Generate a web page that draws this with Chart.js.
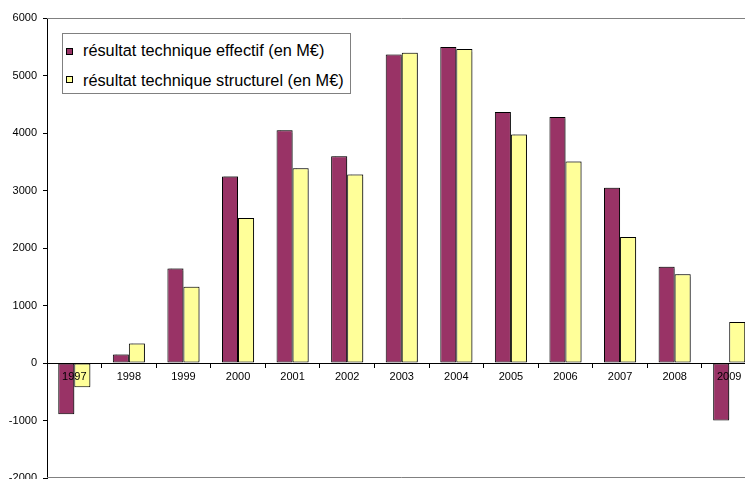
<!DOCTYPE html>
<html>
<head>
<meta charset="utf-8">
<script src="https://cdn.jsdelivr.net/npm/chart.js@4.4.1/dist/chart.umd.min.js"></script>
<style>
  html, body { margin: 0; padding: 0; background: #fff; }
  #wrap { position: relative; width: 745px; height: 479px; overflow: hidden; }
  #c { position: absolute; left: 0; top: 0; }
  #legend { position: absolute; left: 62px; top: 33px; width: 287px; height: 59px;
    border: 1px solid #808080; background: #fff; font-family: "Liberation Sans", Arial, sans-serif;
    font-size: 16.3px; color: #000; }
  .sw { position: absolute; left: 3px; width: 5px; height: 5px; border: 1px solid #000; }
  .txt { position: absolute; left: 20px; white-space: nowrap; line-height: 20px; height: 20px; }
</style>
</head>
<body>
<div id="wrap">
  <canvas id="c" width="770" height="495"></canvas>
  <div id="legend"></div>
</div>
<script>
const categories = ['1997','1998','1999','2000','2001','2002','2003','2004','2005','2006','2007','2008','2009'];
const effectif   = [-890, 150, 1645, 3245, 4050, 3595, 5365, 5495, 4365, 4280, 3050, 1675, -1000];
const structurel = [-420, 340, 1325, 2520, 3385, 3280, 5395, 5460, 3975, 3505, 2190, 1545, 715];
const seriesLabels = ['résultat technique effectif (en M€)', 'résultat technique structurel (en M€)'];
const seriesColors = ['#993366', '#FFFF99'];
const yMin = -2000, yMax = 6000, yStep = 1000;

const legend = document.getElementById('legend');
seriesLabels.forEach((lab, i) => {
  const sw = document.createElement('span');
  sw.className = 'sw';
  sw.style.background = seriesColors[i];
  sw.style.top = (i === 0 ? 14 : 42) + 'px';
  legend.appendChild(sw);
  const t = document.createElement('span');
  t.className = 'txt';
  t.style.top = (i === 0 ? 6 : 36) + 'px';
  t.textContent = lab;
  legend.appendChild(t);
});

const borderPlugin = {
  id: 'plotBorder',
  beforeDatasetsDraw(chart) {
    const {ctx, chartArea: a} = chart;
    ctx.save();
    ctx.strokeStyle = '#808080';
    ctx.lineWidth = 1;
    ctx.beginPath();
    ctx.moveTo(a.left, Math.round(a.top) + 0.5);
    ctx.lineTo(a.right, Math.round(a.top) + 0.5);
    ctx.moveTo(a.left, Math.round(a.bottom) - 0.5);
    ctx.lineTo(a.right, Math.round(a.bottom) - 0.5);
    ctx.moveTo(Math.round(a.right) - 0.5, a.top);
    ctx.lineTo(Math.round(a.right) - 0.5, a.bottom);
    ctx.stroke();
    ctx.restore();
  }
};

const shadowPlugin = {
  id: 'barShadow',
  beforeDatasetDraw(chart) {
    const ctx = chart.ctx;
    ctx.save();
    ctx.shadowColor = 'rgba(0,0,0,0.3)';
    ctx.shadowOffsetX = 1.5;
    ctx.shadowOffsetY = -1;
    ctx.shadowBlur = 1;
  },
  afterDatasetDraw(chart) {
    chart.ctx.restore();
  }
};

const font = { family: '"Liberation Sans", Arial, sans-serif', size: 11 };

new Chart(document.getElementById('c'), {
  type: 'bar',
  data: {
    labels: categories,
    datasets: [
      { label: seriesLabels[0], data: effectif, backgroundColor: seriesColors[0], borderColor: '#000', borderWidth: 1 },
      { label: seriesLabels[1], data: structurel, backgroundColor: seriesColors[1], borderColor: '#000', borderWidth: 1 }
    ]
  },
  options: {
    responsive: false,
    animation: false,
    devicePixelRatio: 1,
    layout: { padding: { left: 0, top: 18, right: 13.5, bottom: 17 } },
    datasets: { bar: { categoryPercentage: 0.588, barPercentage: 1.0, borderSkipped: false } },
    plugins: { legend: { display: false }, tooltip: { enabled: false } },
    scales: {
      x: {
        position: { y: 0 },
        offset: true,
        grid: { display: true, offset: true, drawOnChartArea: false, drawTicks: true, tickLength: 4, color: '#000', lineWidth: 1, z: 1 },
        border: { display: true, color: '#000', width: 1, z: 1 },
        ticks: { color: '#000', font: font, padding: 3, maxRotation: 0, autoSkip: false, z: 1 }
      },
      y: {
        min: yMin, max: yMax,
        afterFit(scale) { scale.width = 47; },
        grid: { display: true, drawOnChartArea: false, drawTicks: true, tickLength: 4, color: '#000' },
        border: { display: true, color: '#000', width: 1 },
        ticks: { stepSize: yStep, color: '#000', font: font, padding: 6, callback: (v) => String(v) }
      }
    }
  },
  plugins: [borderPlugin, shadowPlugin]
});
</script>
</body>
</html>
